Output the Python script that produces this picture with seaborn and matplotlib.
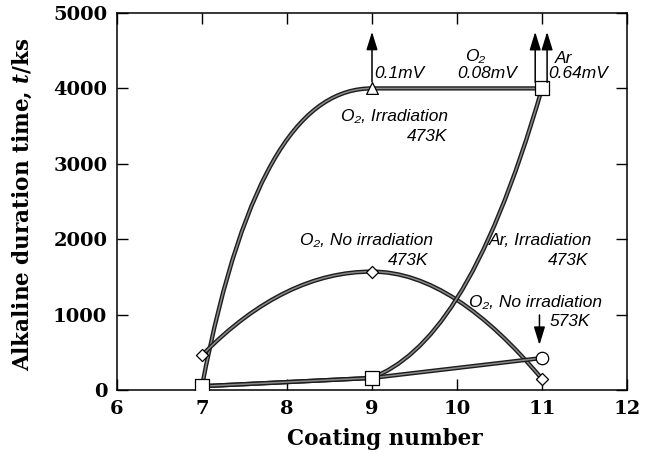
import matplotlib
matplotlib.use("Agg")
import matplotlib.pyplot as plt
import matplotlib.patheffects as pe
from matplotlib.path import Path
from matplotlib.patches import PathPatch
import pandas as pd
import seaborn as sns

# ---- data -------------------------------------------------------------
coating = [7, 9, 11]
o2_irr_473 = [50, 4000, 4000]      # O2, irradiation, 473 K   (triangles)
o2_dark_473 = [460, 1570, 146]     # O2, no irradiation, 473 K (diamonds)
ar_irr_473 = [50, 160, 4000]       # Ar, irradiation, 473 K   (squares)
o2_dark_573 = [50, 160, 424]       # O2, no irradiation, 573 K (circles)

x_ticks = [6, 7, 8, 9, 10, 11, 12]
y_ticks = [0, 1000, 2000, 3000, 4000, 5000]

# ---- style ------------------------------------------------------------
sns.set_theme(style="ticks")
plt.rcParams.update({
    "font.family": ["DejaVu Serif"],
    "mathtext.fontset": "custom",
    "mathtext.it": "DejaVu Serif:italic:bold",
    "mathtext.rm": "DejaVu Serif:bold",
    "mathtext.bf": "DejaVu Serif:bold",
})
ANNOT_FONT = dict(family=["Liberation Sans", "DejaVu Sans"], style="italic",
                  fontsize=12.5, color="black")

fig = plt.figure(figsize=(6.55, 4.53), dpi=100)
ax = fig.add_axes([117 / 655, 63 / 453, 510 / 655, 377 / 453])


def curve_path(xs, ys, m_out, m_in, f_out, f_in):
    """Cubic Bezier segments through the data points.
    m_* are end slopes (None = chord slope), f_* handle lengths as a
    fraction of the segment width."""
    verts = [(xs[0], ys[0])]
    codes = [Path.MOVETO]
    for i in range(len(xs) - 1):
        x0, y0, x1, y1 = xs[i], ys[i], xs[i + 1], ys[i + 1]
        h = x1 - x0
        chord = (y1 - y0) / h
        a = chord if m_out[i] is None else m_out[i]
        b = chord if m_in[i] is None else m_in[i]
        verts += [(x0 + f_out[i] * h, y0 + f_out[i] * h * a),
                  (x1 - f_in[i] * h, y1 - f_in[i] * h * b),
                  (x1, y1)]
        codes += [Path.CURVE4] * 3
    return Path(verts, codes)


third = 1 / 3
curves = [
    (o2_irr_473, [5900, 0], [0, 0], [0.25, third], [0.4, third]),
    (o2_dark_473, [1150, 0], [0, -1345], [third, third], [third, third]),
    (ar_irr_473, [None, 450], [None, 3900], [third, third], [third, third]),
    (o2_dark_573, [None, None], [None, None], [third, third], [third, third]),
]

line_fx = [pe.Stroke(linewidth=3.1, foreground="#1c1c1c"), pe.Normal()]
for ys, m_out, m_in, f_out, f_in in curves:
    patch = PathPatch(curve_path(coating, ys, m_out, m_in, f_out, f_in),
                      facecolor="none", edgecolor="#8a8a8a", linewidth=1.1,
                      zorder=2, capstyle="round")
    patch.set_path_effects(line_fx)
    ax.add_patch(patch)

# ---- markers ----------------------------------------------------------
df = pd.DataFrame({"coating": coating, "o2_irr": o2_irr_473,
                   "o2_dark": o2_dark_473, "ar": ar_irr_473,
                   "o2_573": o2_dark_573})
mk = dict(color="white", edgecolor="black", linewidth=0.9, legend=False, ax=ax)
sns.scatterplot(data=df, x="coating", y="o2_irr", marker="^", s=72, zorder=3, **mk)
sns.scatterplot(data=df, x="coating", y="o2_dark", marker="D", s=38, zorder=3, **mk)
sns.scatterplot(data=df, x="coating", y="o2_573", marker="o", s=80, zorder=4, **mk)
sns.scatterplot(data=df, x="coating", y="ar", marker="s", s=92, zorder=5, **mk)

# ---- arrows (values beyond the measured range / special point) --------
arrow_kw = dict(arrowstyle="-|>,head_length=0.55,head_width=0.17",
                color="black", lw=1.1, mutation_scale=20, shrinkA=0, shrinkB=0)
for xa, y0, y1 in [(9.0, 4089, 4752), (10.92, 4080, 4750),
                   (11.06, 4080, 4750), (10.97, 995, 597)]:
    ax.annotate("", xy=(xa, y1), xytext=(xa, y0), arrowprops=arrow_kw, zorder=6)

# ---- annotations ------------------------------------------------------
notes = [
    ("0.1mV", 9.03, 4204, "left"),
    ("O₂", 10.10, 4420, "left"),
    ("0.08mV", 10.007, 4204, "left"),
    ("Ar", 11.15, 4403, "left"),
    ("0.64mV", 11.078, 4204, "left"),
    ("O₂, Irradiation", 8.64, 3625, "left"),
    ("473K", 9.89, 3359, "right"),
    ("O₂, No irradiation", 9.715, 1989, "right"),
    ("473K", 9.66, 1724, "right"),
    ("Ar, Irradiation", 10.377, 1989, "left"),
    ("473K", 11.55, 1724, "right"),
    ("O₂, No irradiation", 10.14, 1154, "left"),
    ("573K", 11.09, 906, "left"),
]
for txt, xt, yt, ha in notes:
    ax.text(xt, yt, txt, ha=ha, va="center", zorder=7, **ANNOT_FONT)

# ---- axes -------------------------------------------------------------
ax.set_xlim(6, 12)
ax.set_ylim(0, 5000)
ax.set_xticks(x_ticks)
ax.set_yticks(y_ticks)
ax.set_xticklabels([str(v) for v in x_ticks])
ax.set_yticklabels([str(v) for v in y_ticks])
ax.set_xlabel("")
ax.set_ylabel("")
ax.tick_params(direction="in", length=8, width=1.0, color="black",
               top=True, right=True, labelsize=14, labelcolor="black")
ax.tick_params(axis="x", pad=7)
ax.tick_params(axis="y", pad=7)
for lab in ax.get_xticklabels() + ax.get_yticklabels():
    lab.set_fontweight("bold")
for sp in ax.spines.values():
    sp.set_visible(True)
    sp.set_color("black")
    sp.set_linewidth(1.1)
ax.set_facecolor("white")
ax.grid(False)

fig.text(22.5 / 655, 1 - 204.5 / 453, "Alkaline duration time, $t$/ks",
         rotation=90, ha="center", va="center", fontsize=15.5,
         fontweight="bold", color="black")
fig.text(385 / 655, 1 - 439 / 453, "Coating number", ha="center",
         va="center", fontsize=15.5, fontweight="bold", color="black")

fig.savefig("out.png", dpi=100, facecolor="white")
